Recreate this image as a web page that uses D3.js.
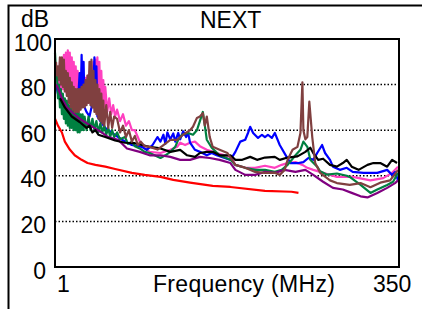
<!DOCTYPE html>
<html>
<head>
<meta charset="utf-8">
<script src="https://cdn.jsdelivr.net/npm/d3@7"></script>
<style>
  body { margin: 0; background: #fff; }
  text { font-family: "Liberation Sans", Arial, sans-serif; fill: #000; }
</style>
</head>
<body>
<svg width="422" height="309"></svg>
<script>
// [frequency MHz, dB]
const limit = [[1,65],[4,62],[8,59],[11,55],[16,51.5],[21,49],[28,47],[34,45.6],[42,44.8],[52,44],[62,43],[79,41.3],[92,40.4],[108,39.5],[121,38.2],[138,37],[161,35.6],[179,35.1],[214,33.4],[241,33],[248,32.5]];

const pink = [[2,88],[3,80],[4,86],[5,79],[6,90],[7,78],[8,91],[9,78],[10,93],[11,77],[12,94],[13,76],[14,95],[15,76],[16,94],[17,75],[18,92],[19,75],[20,90],[21,74],[22,88],[23,74],[24,86],[25,73],[26,85],[27,73],[28,83],[29,72],[30,82],[31,72],[32,83],[33,72],[34,84],[35,72],[36,86],[37,72],[38,88],[39,73],[40,90],[41,72],[42,91],[43,74],[44,92],[45,72],[46,90],[47,72],[48,86],[49,70],[50,82],[51,70],[52,79],[54,68],[56,74],[58,67],[60,71],[62,66],[64,69],[67,64],[70,67],[73,62],[76,64],[79,60],[82,60],[85,57],[87,55],[92,52],[97,50.5],[108,50],[118,51.4],[125,52.7],[128,54.5],[133,53.5],[138,54.5],[143,55],[148,53],[155,51.4],[165,50],[179,48.3],[184,44.8],[194,43.5],[204,43.5],[214,44.4],[224,43.5],[231,44.8],[237,45.6],[245,46],[252,44.8],[257,43.5],[263,42.6],[270,41.7],[287,39.5],[303,39.5],[321,38],[334,39],[343,41.3],[349,44]];

const blue = [[2,80],[4,76],[6,78],[8,74],[11,73],[14,71],[18,70],[21,68],[24,70],[26,85],[27,72],[28,93],[29,75],[30,90],[31,70],[33,68],[36,66],[38,70],[40,80],[41,92],[42,72],[43,88],[44,66],[47,64],[52,61],[59,58.8],[69,55.8],[79,53.5],[89,52.7],[94,51.4],[100,53.5],[105,57],[108,55],[111,58],[113,54],[115,59],[118,56],[121,58.6],[123,55],[126,58.8],[128,56],[131,59.5],[134,57],[136,59],[138,54.5],[143,51.4],[148,50.5],[155,49],[160,50],[165,49],[179,47],[184,50.5],[189,55],[194,55.8],[197,59],[199,61.5],[202,58.8],[207,56.6],[211,58],[214,57],[217,58],[221,56.6],[224,58.8],[229,53.5],[236,48.3],[240,45.6],[248,45.6],[253,46],[258,47.8],[263,47],[267,50],[272,53.5],[275,50],[280,47],[283,44],[290,42.6],[297,43.5],[303,41.7],[314,41.3],[328,41.3],[338,42.6],[343,40.4],[346,41.7],[349,38]];

const green = [[1,94],[2,86],[3,84],[4,74],[5,80],[6,70],[7,78],[8,67],[9,76],[10,65],[11,74],[12,63],[13,73],[14,62],[15,71],[16,61],[17,70],[18,61],[19,70],[20,60],[21,69],[22,60],[23,68],[24,59],[25,68],[26,59],[27,67],[28,60],[29,67],[30,60],[31,66],[33,60],[35,66],[37,60],[39,65],[41,60],[43,64],[45,59],[47,63],[49,59],[51,62],[53,58],[55,61],[57,57],[59,60],[61,57],[64,59],[67,56],[72,57],[75,54],[79,55],[82,53],[87,52],[92,50.5],[97,50],[108,47.8],[113,49],[118,50.5],[123,52.7],[126,55.8],[130,58],[136,58.8],[141,58],[145,60],[148,64],[151,68],[153,62],[155,55.8],[160,52.3],[168,49],[179,47],[184,44.8],[194,43.5],[204,42.6],[214,42.6],[224,41.7],[231,42.6],[237,44.8],[245,49],[250,51.4],[253,55],[257,52.7],[260,47],[267,44],[270,42],[277,40.5],[287,41],[297,40],[300,39.5],[311,36],[321,32.5],[328,34],[338,36],[344,37.4],[349,41.3]];

const purple = [[2,80],[4,78.5],[8,74],[13,70],[18,68],[26,65],[37,62],[49,58.8],[55,57],[65,55.8],[74,52],[87,50.5],[97,49],[108,49],[118,48.3],[128,47],[138,47],[148,48.3],[158,47.8],[168,47],[179,45.6],[184,42.6],[194,40.4],[204,40.4],[214,41.7],[224,41.3],[234,42.6],[245,41.7],[255,42.6],[263,40.4],[273,37.4],[283,34.7],[293,34],[302,32.5],[311,31],[318,30.5],[328,32.5],[338,34.7],[346,36.8],[349,38]];

const black = [[6,74],[11,70],[18,66],[26,63.6],[33,61],[36,62],[39,59],[42,60],[45,58],[52,57],[62,55.5],[72,54.5],[82,54.3],[89,53.5],[97,52.7],[108,52],[118,50.5],[128,51.4],[135,49],[143,48.3],[148,50],[155,50.5],[161,50.5],[168,49],[179,49],[184,47],[191,47],[199,48.3],[206,47],[214,48],[224,48.3],[229,47],[237,48],[247,48.5],[255,50.5],[260,52.3],[263,50],[268,47],[273,47.5],[280,44.8],[287,44],[293,45.6],[297,47],[302,44],[309,42.6],[318,44.8],[324,45.6],[331,45.6],[338,44],[343,47],[348,45.6]];

const brown = [[2,90],[3,84],[4,88],[5,82],[6,92],[7,80],[8,92],[9,79],[10,91],[11,77],[12,86],[13,75],[14,85],[15,72],[16,83],[17,70],[18,81],[19,69],[20,79],[21,68],[22,78],[23,68],[24,78],[25,68],[26,78],[27,69],[28,79],[29,70],[30,80],[31,70],[32,82],[33,71],[34,84],[35,72],[36,90],[37,71],[38,91],[39,70],[40,86],[41,68],[42,82],[43,67],[44,80],[45,65],[46,78],[47,64],[48,76],[49,63],[50,73],[51,62],[53,71],[55,61],[57,68],[59,61],[61,66],[64,65],[67,59],[70,62],[73,57],[76,60],[79,55],[82,57.5],[85,53.5],[88,55],[92,53],[97,52.7],[105,51.5],[111,53.5],[118,55.8],[125,55.8],[131,58],[138,60],[141,61.5],[145,65.4],[148,66],[151,67.5],[153,62],[155,66],[158,57],[161,52.7],[168,51.4],[176,50],[184,44.8],[194,43.5],[204,41.7],[214,41.3],[224,41.3],[229,40.4],[234,42.6],[237,47],[242,51.4],[247,52.7],[250,58.8],[252,81],[253,60],[255,56],[257,57],[259,72.5],[262,57],[265,45.6],[270,41.3],[280,38],[287,36.8],[300,36],[311,36.8],[321,35],[331,37],[341,38],[349,42.6]];

const yTicks = [0, 20, 40, 60, 80, 100];
const gridTicks = [20, 40, 60, 80];

const series = [
  {data: pink, color: "#ff40c0"},
  {data: blue, color: "#0000ff"},
  {data: green, color: "#008040"},
  {data: purple, color: "#800080"},
  {data: black, color: "#000000"},
  {data: brown, color: "#804040"},
  {data: limit, color: "#ff0000"}
];

const svg = d3.select("svg");
const plotL = 55, plotR = 399, plotT = 39, plotB = 267;

const x = d3.scaleLinear().domain([1, 350]).range([plotL, plotR]);
const y = d3.scaleLinear().domain([0, 100]).range([plotB, plotT]);

// outer frame
svg.append("rect")
    .attr("x", 8.5).attr("y", 5.5)
    .attr("width", 430).attr("height", 320)
    .attr("fill", "none").attr("stroke", "#000").attr("stroke-width", 2);

// dotted grid
svg.selectAll(".grid")
    .data(gridTicks)
    .enter().append("line")
    .attr("x1", plotL).attr("x2", plotR)
    .attr("y1", d => y(d)).attr("y2", d => y(d))
    .attr("stroke", "#000").attr("stroke-width", 1.5)
    .attr("stroke-dasharray", "1.5,2");

const line = d3.line()
    .x(d => x(d[0]))
    .y(d => y(d[1]));

svg.append("g")
    .selectAll("path")
    .data(series)
    .enter().append("path")
    .attr("d", d => line(d.data))
    .attr("fill", "none")
    .attr("stroke", d => d.color)
    .attr("stroke-width", 2.2)
    .attr("stroke-linejoin", "round");

// plot box
svg.append("rect")
    .attr("x", plotL).attr("y", plotT)
    .attr("width", plotR - plotL).attr("height", plotB - plotT)
    .attr("fill", "none").attr("stroke", "#000").attr("stroke-width", 2);

// y labels
svg.selectAll(".ylab")
    .data(yTicks)
    .enter().append("text")
    .attr("x", d => d === 100 ? 52 : 46)
    .attr("y", d => y(d) + 11.5)
    .attr("text-anchor", "end")
    .style("font-size", "23px")
    .text(d => d);

svg.append("text").attr("x", 21).attr("y", 27).style("font-size", "23px").text("dB");
svg.append("text").attr("x", 200).attr("y", 28).style("font-size", "23px").text("NEXT");
svg.append("text").attr("x", 57).attr("y", 292).style("font-size", "23px").text("1");
svg.append("text").attr("x", 153).attr("y", 292).style("font-size", "23px")
    .style("letter-spacing", "0.3px").text("Frequency (MHz)");
svg.append("text").attr("x", 373).attr("y", 292).style("font-size", "23px").text("350");
</script>
</body>
</html>
